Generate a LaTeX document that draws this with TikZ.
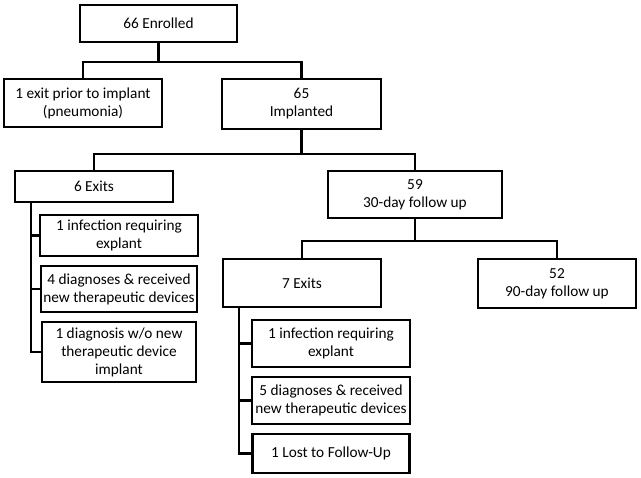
\documentclass[tikz,border=0pt]{standalone}
\usepackage{fontspec}
\setmainfont{Carlito}
\usetikzlibrary{positioning}

\tikzset{
    box/.style={draw, line width=2.4pt, align=center, inner sep=2pt, outer sep=0pt,
        font=\fontsize{15.3}{18}\selectfont},
    link/.style={line width=2.4pt},
}

\begin{document}
\begin{tikzpicture}[x=1pt, y=-1pt, node distance=10pt]
            \useasboundingbox (0,0) rectangle (641,478);
            % top levels
            \node[box, minimum width=157pt, minimum height=37pt] (enrolled) at (158.5,23.5) {66 Enrolled};
            \node[box, minimum width=158pt, minimum height=48pt] (prior) at (83,103) {1 exit prior to implant\\(pneumonia)};
            \node[box, minimum width=159pt, minimum height=50pt] (implanted) at (301.5,104) {65\\Implanted};
            \node[box, minimum width=158pt, minimum height=31pt] (exitsA) at (94,186.5) {6 Exits};
            \node[box, minimum width=174pt, minimum height=47pt] (fuA) at (415,194.5) {59\\30-day follow up};
            \node[box, minimum width=158pt, minimum height=48pt] (exitsB) at (302,283) {7 Exits};
            \node[box, minimum width=158pt, minimum height=49pt] (fuB) at (557,283.5) {52\\90-day follow up};
            % exits after implant
            \node[box, minimum width=158pt, minimum height=41pt] (infA) at (119,235.5) {1 infection requiring\\explant};
            \node[box, minimum width=156pt, minimum height=46pt, below=of infA] (diagA) {4 diagnoses \& received\\new therapeutic devices};
            \node[box, minimum width=154pt, minimum height=60pt, below=of diagA] (nodev) {1 diagnosis w/o new\\therapeutic device\\implant};
            % exits after 30 days
            \node[box, minimum width=158pt, minimum height=47pt] (infB) at (331,343.5) {1 infection requiring\\explant};
            \node[box, minimum width=158pt, minimum height=47pt, below=of infB] (diagB) {5 diagnoses \& received\\new therapeutic devices};
            \node[box, minimum width=157pt, minimum height=39pt, below=of diagB] (lost) {1 Lost to Follow-Up};

            \coordinate (splitA) at (158.5,62);
            \coordinate (splitB) at (301.5,154);
            \coordinate (splitC) at (415,241);
            \draw[link] (enrolled.south) -- (splitA) -| (prior.north);
            \draw[link] (splitA) -| (implanted.north);
            \draw[link] (implanted.south) -- (splitB) -| (exitsA.north);
            \draw[link] (splitB) -| (fuA.north);
            \draw[link] (fuA.south) -- (splitC) -| (exitsB.north);
            \draw[link] (splitC) -| (fuB.north);

            \draw[link] ([xshift=-63pt]exitsA.south) |- (nodev.west);
            \draw[link] ([xshift=-63pt]exitsA.south) |- (diagA.west);
            \draw[link] ([xshift=-63pt]exitsA.south) |- (infA.west);
            \draw[link] ([xshift=-63pt]exitsB.south) |- (lost.west);
            \draw[link] ([xshift=-63pt]exitsB.south) |- (diagB.west);
            \draw[link] ([xshift=-63pt]exitsB.south) |- (infB.west);
\end{tikzpicture}
\end{document}
